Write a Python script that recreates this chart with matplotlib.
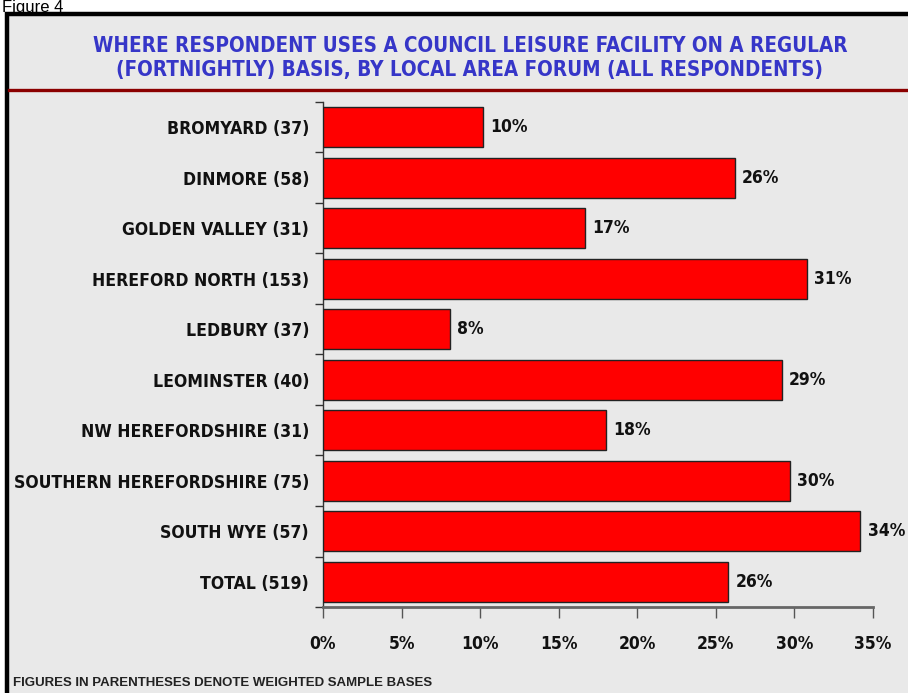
import matplotlib
matplotlib.use("Agg")
import matplotlib.pyplot as plt
from matplotlib.patches import Rectangle
from matplotlib.lines import Line2D

OUTPUT_IMAGE = "out.png"

areas = ["BROMYARD (37)", "DINMORE (58)", "GOLDEN VALLEY (31)", "HEREFORD NORTH (153)",
         "LEDBURY (37)", "LEOMINSTER (40)", "NW HEREFORDSHIRE (31)",
         "SOUTHERN HEREFORDSHIRE (75)", "SOUTH WYE (57)", "TOTAL (519)"]
values = [10.2, 26.2, 16.7, 30.8, 8.1, 29.2, 18.0, 29.7, 34.2, 25.8]
value_labels = ["10%", "26%", "17%", "31%", "8%", "29%", "18%", "30%", "34%", "26%"]
x_ticks = [0, 5, 10, 15, 20, 25, 30, 35]

TITLE = ("WHERE RESPONDENT USES A COUNCIL LEISURE FACILITY ON A REGULAR\n"
         "(FORTNIGHTLY) BASIS, BY LOCAL AREA FORUM (ALL RESPONDENTS)")
NOTE = "FIGURES IN PARENTHESES DENOTE WEIGHTED SAMPLE BASES"

W, H = 908, 693
BG = "#e9e9e9"
FONT = dict(family="DejaVu Sans", weight="bold", stretch="condensed")

fig = plt.figure(figsize=(W / 100, H / 100), dpi=100, facecolor="white")

# grey panel with black frame
fig.patches.append(Rectangle((7 / W, -0.05), 1.0, 1 - 14 / H + 0.05, transform=fig.transFigure,
                             facecolor=BG, edgecolor="black", linewidth=3.2, zorder=-10))
fig.lines.append(Line2D([9 / W, 1], [1 - 90 / H, 1 - 90 / H], transform=fig.transFigure,
                        color="#8b0000", linewidth=2.4, zorder=-5))

fig.text(0.002, 1 - 12 / H, "Figure 4", family="Liberation Sans", fontsize=12, va="baseline", ha="left")
fig.text(470 / W, 1 - 58 / H, TITLE, color="#3636c8", fontsize=14.8, ha="center", va="center",
         linespacing=1.3, **FONT)
fig.text(13 / W, 1 - 683 / H, NOTE, family=["Liberation Sans Narrow", "Liberation Sans"],
         weight="bold", fontsize=9.5, ha="left", va="center", color="#222222")

ax = fig.add_axes([323 / W, 1 - 607 / H, 550 / W, 505 / H])
ax.set_facecolor("none")
pos = list(range(len(areas)))
ax.barh(pos, values, height=0.79, color="#ff0000", edgecolor="#222222", linewidth=1.0, zorder=3)
for p, v, lab in zip(pos, values, value_labels):
    ax.text(v + 0.45, p, lab, va="center", ha="left", fontsize=12.5, color="#111111", **FONT)

ax.set_ylim(len(areas) - 0.5, -0.5)
ax.set_xlim(0, 35)
ax.set_yticks(pos)
ax.set_yticklabels(areas, fontsize=12.6, color="#111111", **FONT)
ax.set_yticks([p - 0.5 for p in range(len(areas) + 1)], minor=True)
ax.tick_params(axis="y", which="major", length=0, pad=10)
ax.tick_params(axis="y", which="minor", length=6, width=1, color="#333333", direction="out")
ax.set_xticks(x_ticks)
ax.set_xticklabels([f"{t}%" for t in x_ticks], fontsize=12.5, color="#111111", **FONT)
ax.tick_params(axis="x", length=8, width=1, color="#555555", direction="out", pad=12)

for s in ["top", "right"]:
    ax.spines[s].set_visible(False)
ax.spines["left"].set_color("#333333")
ax.spines["left"].set_linewidth(1.0)
ax.spines["bottom"].set_color("#666666")
ax.spines["bottom"].set_linewidth(2.0)

fig.savefig(OUTPUT_IMAGE, dpi=100, facecolor=fig.get_facecolor())
plt.close(fig)
